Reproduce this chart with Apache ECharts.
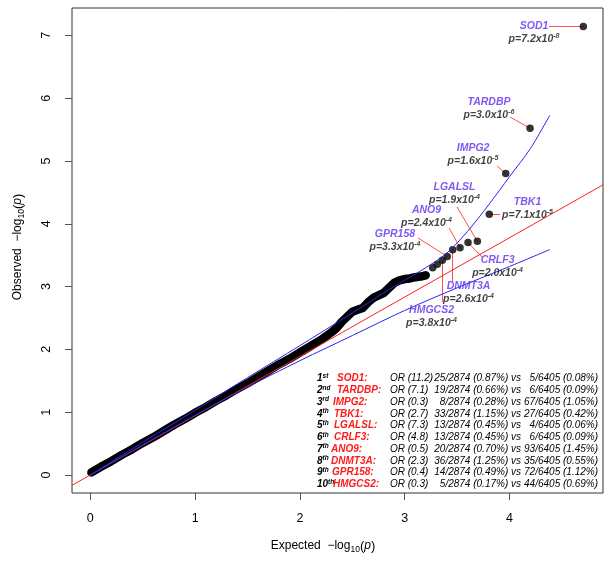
<!DOCTYPE html>
<html><head><meta charset="utf-8">
<script src="https://cdn.jsdelivr.net/npm/echarts@6/dist/echarts.min.js"></script>
<style>html,body{margin:0;padding:0;background:#fff}#c{width:612px;height:561px}</style>
</head><body><div id="c"></div>
<script>
// ---------------- data ----------------
const xTicks = [0, 1, 2, 3, 4];
const yTicks = [0, 1, 2, 3, 4, 5, 6, 7];

// dense body of the QQ points
const bandX = [0.01,0.1,0.2,0.3,0.4,0.5,0.6,0.7,0.8,0.9,1.0,1.1,1.2,1.3,1.4,1.5,1.6,1.7,1.8,1.9,2.0,2.1,2.2,2.3,2.35,2.4,2.45,2.5,2.55,2.6,2.65,2.7,2.75,2.8,2.85,2.9,2.95,3.0,3.05,3.1,3.15,3.2];
const bandY = [0.04,0.13,0.22,0.32,0.41,0.51,0.60,0.70,0.80,0.89,0.99,1.08,1.18,1.27,1.37,1.46,1.56,1.66,1.76,1.85,1.95,2.05,2.15,2.27,2.34,2.44,2.52,2.60,2.63,2.66,2.75,2.82,2.86,2.90,2.98,3.06,3.10,3.12,3.13,3.15,3.16,3.18];

// separate points just above the body
const extraX = [3.267, 3.311];
const extraY = [3.30, 3.355];

// top ten genes
const genes = ['SOD1','TARDBP','IMPG2','TBK1','LGALSL','CRLF3','ANO9','DNMT3A','GPR158','HMGCS2'];
const geneX = [4.704, 4.196, 3.964, 3.807, 3.693, 3.604, 3.528, 3.458, 3.406, 3.359];
const geneY = [7.14, 5.52, 4.80, 4.15, 3.72, 3.70, 3.62, 3.585, 3.48, 3.42];
const pMant = ['7.2','3.0','1.6','7.1','1.9','2.0','2.4','2.6','3.3','3.8'];
const pExp  = ['-8','-6','-5','-5','-4','-4','-4','-4','-4','-4'];

// reference line and confidence band
const redX = [-0.175, 4.892];
const redY = [-0.165, 4.62];
const upperX = [0, 0.5, 1.0, 1.5, 2.0, 2.5, 2.8, 3.0, 3.2, 3.4, 3.6, 3.8, 4.0, 4.2, 4.385];
const upperY = [0, 0.52, 1.03, 1.55, 2.06, 2.58, 2.9, 3.1, 3.3, 3.53, 3.88, 4.3, 4.75, 5.2, 5.73];
const lowerX = [0, 0.5, 1.0, 1.5, 2.0, 2.5, 3.0, 3.5, 4.0, 4.385];
const lowerY = [0, 0.48, 0.95, 1.4, 1.82, 2.22, 2.62, 2.98, 3.32, 3.59];

// table
const ordSuf = ['st','nd','rd','th','th','th','th','th','th','th'];
const orVals = ['11.2','7.1','0.3','2.7','7.3','4.8','0.5','2.3','0.4','0.3'];
const caseN = [25,19,8,33,13,13,20,36,14,5];
const casePct = ['0.87','0.66','0.28','1.15','0.45','0.45','0.70','1.25','0.49','0.17'];
const ctrlN = [5,6,67,27,4,6,93,35,72,44];
const ctrlPct = ['0.08','0.09','1.05','0.42','0.06','0.09','1.45','0.55','1.12','0.69'];
const caseTotal = 2874, ctrlTotal = 6405;

// ---------------- layout (annotation anchors, data units; same order as genes) ----------------
const labelPos = [[4.234,7.038],[3.804,5.836],[3.652,5.104],[4.172,4.244],[3.475,4.475],[3.886,3.320],[3.208,4.108],[3.609,2.898],[2.907,3.734],[3.256,2.516]];
const leaderFrom = [[4.377,7.14],[4.005,5.701],[3.881,4.920],[3.909,4.15],[3.499,4.268],[3.737,3.471],[3.423,3.933],[3.458,3.073],[3.127,3.774],[3.359,2.755]];
const nameLeft = [337,337,333,334,334,334,331,331,332,333];

const FONT = '"Liberation Sans", Arial, Helvetica, sans-serif';
const chart = echarts.init(document.getElementById('c'), null, {renderer: 'canvas'});

const zip = (a, b) => a.map((v, i) => [v, b[i]]);

const graphics = [];
// table rows
for (let i = 0; i < genes.length; i++) {
  const y = 378.5 + i * 11.75;
  graphics.push({type:'text', x: 317, y, silent:true, style:{
    text: '{o|' + (i + 1) + '}{s|' + ordSuf[i] + '}', align:'left', verticalAlign:'middle',
    rich: {o:{fontFamily:FONT, fontSize:10, fontWeight:'bold', fontStyle:'italic', fill:'#000', lineHeight:12},
           s:{fontFamily:FONT, fontSize:6.5, fontWeight:'bold', fontStyle:'italic', fill:'#000', lineHeight:12, verticalAlign:'top'}}
  }});
  graphics.push({type:'text', x: nameLeft[i], y, silent:true, style:{
    text: genes[i] + ':', align:'left', verticalAlign:'middle', fontFamily:FONT, fontSize:10, fontWeight:'bold', fontStyle:'italic', fill:'#FF1A1A'}});
  graphics.push({type:'text', x: 390, y, silent:true, style:{
    text: 'OR (' + orVals[i] + ')', align:'left', verticalAlign:'middle', fontFamily:FONT, fontSize:10, fontStyle:'italic', fill:'#000'}});
  graphics.push({type:'text', x: 521, y, silent:true, style:{
    text: caseN[i] + '/' + caseTotal + ' (' + casePct[i] + '%) vs', align:'right', verticalAlign:'middle', fontFamily:FONT, fontSize:10, fontStyle:'italic', fill:'#000'}});
  graphics.push({type:'text', x: 598, y, silent:true, style:{
    text: ctrlN[i] + '/' + ctrlTotal + ' (' + ctrlPct[i] + '%)', align:'right', verticalAlign:'middle', fontFamily:FONT, fontSize:10, fontStyle:'italic', fill:'#000'}});
}
// axis titles
const titleRich = {
  t:{fontFamily:FONT, fontSize:12, fill:'#000', lineHeight:16},
  i:{fontFamily:FONT, fontSize:12, fontStyle:'italic', fill:'#000', lineHeight:16},
  b:{fontFamily:FONT, fontSize:13, fill:'#000', lineHeight:16},
  sub:{fontFamily:FONT, fontSize:8.5, fill:'#000', lineHeight:16, verticalAlign:'bottom'}
};
graphics.push({type:'text', x: 323, y: 546, silent:true, style:{
  text:'{t|Expected  \u2212log}{sub|10}{b|(}{i|p}{b|)}', align:'center', verticalAlign:'middle', rich:titleRich}});
graphics.push({type:'text', x: 18, y: 247, rotation: Math.PI/2, silent:true, style:{
  text:'{t|Observed  \u2212log}{sub|10}{b|(}{i|p}{b|)}', align:'center', verticalAlign:'middle', rich:titleRich}});

const option = {
  animation: false,
  backgroundColor: '#fff',
  grid: {left: 72, right: 9, top: 8, bottom: 68, show: true, borderColor: '#333', borderWidth: 1},
  xAxis: {
    type: 'value', min: -0.175, max: 4.892,
    axisLine: {show: false, onZero: false}, splitLine: {show: false},
    axisTick: {show: true, customValues: xTicks, length: 7, inside: false, lineStyle: {color: '#555'}},
    axisLabel: {show: true, customValues: xTicks, margin: 19, fontSize: 12.5, color: '#000', fontFamily: FONT}
  },
  yAxis: {
    type: 'value', min: -0.287, max: 7.436,
    axisLine: {show: false, onZero: false}, splitLine: {show: false},
    axisTick: {show: true, customValues: yTicks, length: 7, inside: false, lineStyle: {color: '#555'}},
    axisLabel: {show: true, customValues: yTicks, margin: 19, fontSize: 12.5, color: '#000', fontFamily: FONT, rotate: 90}
  },
  series: [
    {type:'line', data: zip(bandX, bandY), symbol:'none', z:2,
     lineStyle:{color:'#000', width:8.5, cap:'round', join:'round'}},
    {type:'scatter', data: zip(geneX, geneY).concat(zip(extraX, extraY)), symbol:'circle', symbolSize: 7.5, z:3,
     itemStyle:{color:'#000'}},
    {type:'line', data: zip(redX, redY), symbol:'none', z:4, lineStyle:{color:'#FF2020', width:1}},
    {type:'line', data: zip(upperX, upperY), symbol:'none', smooth:0.3, z:5, lineStyle:{color:'#2626F2', width:1}},
    {type:'line', data: zip(lowerX, lowerY), symbol:'none', smooth:0.3, z:5, lineStyle:{color:'#2626F2', width:1}},
    {type:'lines', coordinateSystem:'cartesian2d', z:2, silent:true,
     lineStyle:{color:'#FF5050', width:1, opacity:1},
     data: leaderFrom.map((s, i) => ({coords: [s, [geneX[i], geneY[i]]]}))},
    {type:'scatter', data: labelPos, symbolSize: 0, z:6, silent:true,
     itemStyle:{color:'transparent'},
     label:{show:true, position:'inside', align:'center', verticalAlign:'middle',
       formatter: p => '{n|' + genes[p.dataIndex] + '}\n{p|p=' + pMant[p.dataIndex] + 'x10}{s|' + pExp[p.dataIndex] + '}',
       rich:{
         n:{fontFamily:FONT, fontSize:10.5, fontWeight:'bold', fontStyle:'italic', color:'#5F2EEE', lineHeight:13},
         p:{fontFamily:FONT, fontSize:10.5, fontWeight:'bold', fontStyle:'italic', color:'#111', lineHeight:13},
         s:{fontFamily:FONT, fontSize:7, fontWeight:'bold', fontStyle:'italic', color:'#111', lineHeight:13, verticalAlign:'top'}
       }}}
  ],
  graphic: graphics
};
chart.setOption(option);
</script></body></html>
